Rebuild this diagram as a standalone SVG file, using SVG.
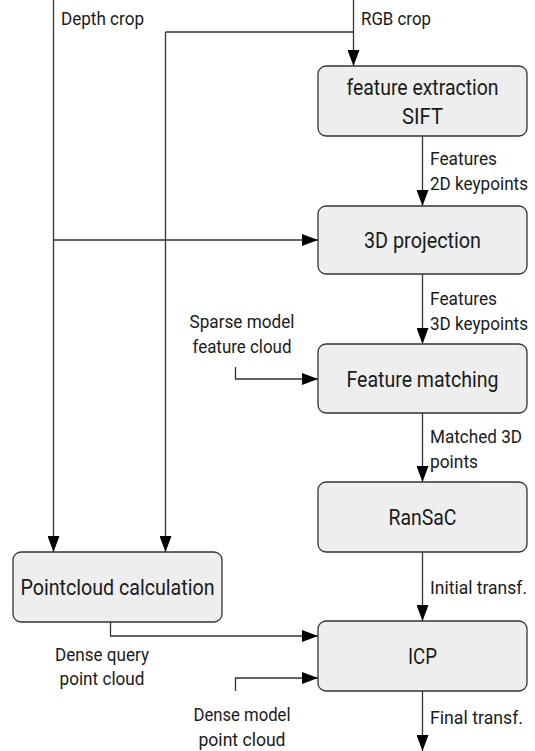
<svg xmlns="http://www.w3.org/2000/svg" width="535" height="751" viewBox="0 0 535 751">
<defs>
<marker id="arrv" viewBox="0 0 16 12" refX="16" refY="6" markerWidth="16" markerHeight="12" markerUnits="userSpaceOnUse" orient="auto">
<path d="M0,0 L16,6 L0,12 z" fill="#000"/>
</marker>
</defs>
<style>
.box{fill:#eeeeee;stroke:#333;stroke-width:1.3}
.bt{font-family:Roboto,"Liberation Sans",sans-serif;font-size:22px;fill:#1a1a1a;text-anchor:middle}
.lb{font-family:Roboto,"Liberation Sans",sans-serif;font-size:18.5px;fill:#1a1a1a}
.lc{font-family:Roboto,"Liberation Sans",sans-serif;font-size:18.5px;fill:#1a1a1a;text-anchor:middle}
.c{fill:none;stroke:#333;stroke-width:1.3}
.ca{fill:none;stroke:#333;stroke-width:1.3;marker-end:url(#arrv)}
</style>
<rect width="535" height="751" fill="#fff"/>
<g id="connectors">
<path class="ca" d="M53.5,0 V552"/>
<path class="ca" d="M353.5,0 V66"/>
<path class="c" d="M353.5,32 H165.5"/>
<path class="ca" d="M165.5,32 V552"/>
<path class="ca" d="M53.5,240 H318"/>
<path class="ca" d="M422.5,136 V206"/>
<path class="ca" d="M422.5,274 V344"/>
<path class="ca" d="M235.5,367 V379 H318"/>
<path class="ca" d="M422.5,413 V482"/>
<path class="ca" d="M422.5,552 V621"/>
<path class="ca" d="M110.5,622 V636 H318"/>
<path class="ca" d="M235.5,691 V678 H318"/>
<path class="ca" d="M422.5,691 V751"/>
<text class="lb" x="61" y="25" textLength="83" lengthAdjust="spacingAndGlyphs">Depth crop</text>
<text class="lb" x="361" y="25" textLength="70" lengthAdjust="spacingAndGlyphs">RGB crop</text>
<text class="lb" x="430" y="165" textLength="67" lengthAdjust="spacingAndGlyphs">Features</text>
<text class="lb" x="430" y="190" textLength="98" lengthAdjust="spacingAndGlyphs">2D keypoints</text>
<text class="lb" x="430" y="305" textLength="67" lengthAdjust="spacingAndGlyphs">Features</text>
<text class="lb" x="430" y="330" textLength="98" lengthAdjust="spacingAndGlyphs">3D keypoints</text>
<text class="lc" x="242" y="328" textLength="105" lengthAdjust="spacingAndGlyphs">Sparse model</text>
<text class="lc" x="242" y="353" textLength="99" lengthAdjust="spacingAndGlyphs">feature cloud</text>
<text class="lb" x="430" y="443" textLength="92" lengthAdjust="spacingAndGlyphs">Matched 3D</text>
<text class="lb" x="430" y="468" textLength="48" lengthAdjust="spacingAndGlyphs">points</text>
<text class="lb" x="430" y="594" textLength="97" lengthAdjust="spacingAndGlyphs">Initial transf.</text>
<text class="lc" x="102" y="661" textLength="94" lengthAdjust="spacingAndGlyphs">Dense query</text>
<text class="lc" x="102" y="685" textLength="85" lengthAdjust="spacingAndGlyphs">point cloud</text>
<text class="lc" x="242" y="721" textLength="97" lengthAdjust="spacingAndGlyphs">Dense model</text>
<text class="lc" x="242" y="746" textLength="87" lengthAdjust="spacingAndGlyphs">point cloud</text>
<text class="lb" x="430" y="724" textLength="93" lengthAdjust="spacingAndGlyphs">Final transf.</text>
</g>
<g id="fe">
<rect class="box" x="318" y="66" width="209" height="70" rx="8"/>
<text class="bt" x="422.5" y="95" textLength="152" lengthAdjust="spacingAndGlyphs">feature extraction</text>
<text class="bt" x="422.5" y="124" textLength="41" lengthAdjust="spacingAndGlyphs">SIFT</text>
</g>
<g id="proj">
<rect class="box" x="318" y="206" width="209" height="68" rx="8"/>
<text class="bt" x="422.5" y="248" textLength="117" lengthAdjust="spacingAndGlyphs">3D projection</text>
</g>
<g id="match">
<rect class="box" x="318" y="344" width="209" height="69" rx="8"/>
<text class="bt" x="422.5" y="387" textLength="152" lengthAdjust="spacingAndGlyphs">Feature matching</text>
</g>
<g id="ransac">
<rect class="box" x="318" y="482" width="209" height="70" rx="8"/>
<text class="bt" x="422.5" y="525" textLength="68" lengthAdjust="spacingAndGlyphs">RanSaC</text>
</g>
<g id="pcl">
<rect class="box" x="13" y="552" width="209" height="70" rx="8"/>
<text class="bt" x="117.5" y="595" textLength="194" lengthAdjust="spacingAndGlyphs">Pointcloud calculation</text>
</g>
<g id="icp">
<rect class="box" x="318" y="621" width="209" height="70" rx="8"/>
<text class="bt" x="422.5" y="664" textLength="29" lengthAdjust="spacingAndGlyphs">ICP</text>
</g>
</svg>
